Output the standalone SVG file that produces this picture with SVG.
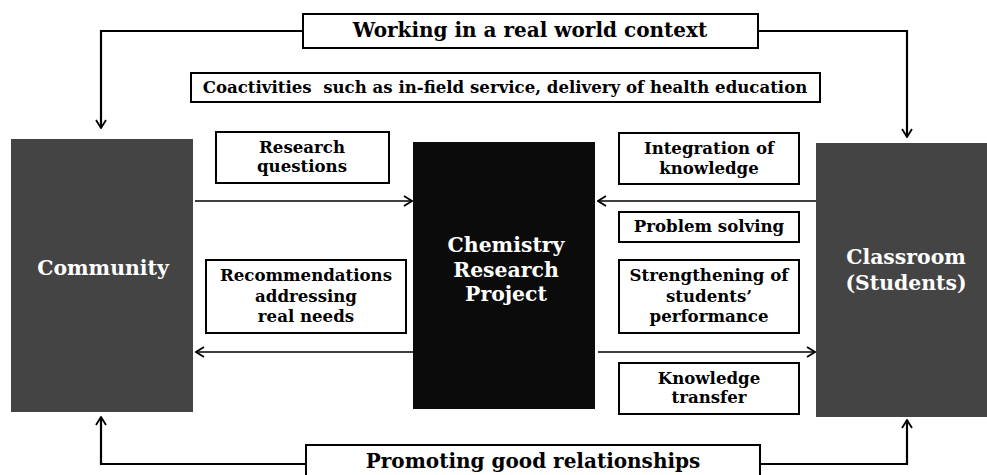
<svg xmlns="http://www.w3.org/2000/svg" width="987" height="475" viewBox="0 0 987 475">
  <defs>
    <style>
      text { font-family: "DejaVu Serif", "Liberation Serif", serif; font-weight: bold; text-anchor: middle; }
      .lbl { fill: #000; font-size: 16.6px; }
      .big { fill: #fff; font-size: 20.4px; }
      .head { fill: #000; font-size: 20px; }
      .pre { white-space: pre; }
      .box { fill: #fff; stroke: #000; stroke-width: 2; }
      .block { stroke: none; }
      .link { fill: none; stroke: #000; stroke-width: 1.6; }
      .loop { fill: none; stroke: #000; stroke-width: 2.2; }
    </style>
    <marker id="arrow" viewBox="0 0 10 12" refX="9" refY="6" markerWidth="10" markerHeight="12" markerUnits="userSpaceOnUse" orient="auto">
      <path d="M1,1 L9,6 L1,11" fill="none" stroke="#000" stroke-width="1.8"/>
    </marker>
  </defs>

  <!-- connectors -->
  <g id="connectors">
    <path class="loop" d="M303,31 H101 V128" marker-end="url(#arrow)"/>
    <path class="loop" d="M758,31 H907 V137" marker-end="url(#arrow)"/>
    <path class="loop" d="M306,464 H101 V417" marker-end="url(#arrow)"/>
    <path class="loop" d="M760,464 H907 V420" marker-end="url(#arrow)"/>
    <path class="link" d="M195,201 H412" marker-end="url(#arrow)"/>
    <path class="link" d="M413,352 H196" marker-end="url(#arrow)"/>
    <path class="link" d="M816,201 H598" marker-end="url(#arrow)"/>
    <path class="link" d="M598,352 H815" marker-end="url(#arrow)"/>
  </g>

  <!-- main blocks -->
  <g id="community">
    <rect class="block" x="11" y="139" width="182" height="273" fill="#444"/>
    <text class="big" x="103" y="275">Community</text>
  </g>
  <g id="project">
    <rect class="block" x="413" y="142" width="182" height="267" fill="#0b0b0b"/>
    <text class="big" x="506" y="252">Chemistry</text>
    <text class="big" x="506" y="277">Research</text>
    <text class="big" x="506" y="301">Project</text>
  </g>
  <g id="classroom">
    <rect class="block" x="816" y="143" width="171" height="274" fill="#444"/>
    <text class="big" x="906" y="264">Classroom</text>
    <text class="big" x="906" y="290">(Students)</text>
  </g>

  <!-- context banners -->
  <g id="real-world">
    <rect class="box" x="303" y="14" width="455" height="34"/>
    <text class="head" x="530" y="37">Working in a real world context</text>
  </g>
  <g id="coactivities">
    <rect class="box" x="191" y="73" width="629" height="29"/>
    <text class="lbl pre" x="505" y="93">Coactivities  such as in-field service, delivery of health education</text>
  </g>
  <g id="relationships">
    <rect class="box" x="306" y="445" width="454" height="40"/>
    <text class="head" x="533" y="468">Promoting good relationships</text>
  </g>

  <!-- flow labels, left -->
  <g id="research-questions">
    <rect class="box" x="216" y="132" width="173" height="51"/>
    <text class="lbl" x="302" y="153">Research</text>
    <text class="lbl" x="302" y="172">questions</text>
  </g>
  <g id="recommendations">
    <rect class="box" x="206" y="260" width="200" height="73"/>
    <text class="lbl" x="306" y="281">Recommendations</text>
    <text class="lbl" x="306" y="302">addressing</text>
    <text class="lbl" x="306" y="322">real needs</text>
  </g>

  <!-- flow labels, right -->
  <g id="integration">
    <rect class="box" x="619" y="133" width="180" height="51"/>
    <text class="lbl" x="709" y="154">Integration of</text>
    <text class="lbl" x="709" y="174">knowledge</text>
  </g>
  <g id="problem-solving">
    <rect class="box" x="619" y="212" width="180" height="30"/>
    <text class="lbl" x="709" y="232">Problem solving</text>
  </g>
  <g id="strengthening">
    <rect class="box" x="619" y="260" width="180" height="73"/>
    <text class="lbl" x="709" y="281">Strengthening of</text>
    <text class="lbl" x="709" y="302">students’</text>
    <text class="lbl" x="709" y="322">performance</text>
  </g>
  <g id="knowledge-transfer">
    <rect class="box" x="619" y="363" width="180" height="51"/>
    <text class="lbl" x="709" y="384">Knowledge</text>
    <text class="lbl" x="709" y="403">transfer</text>
  </g>
</svg>
